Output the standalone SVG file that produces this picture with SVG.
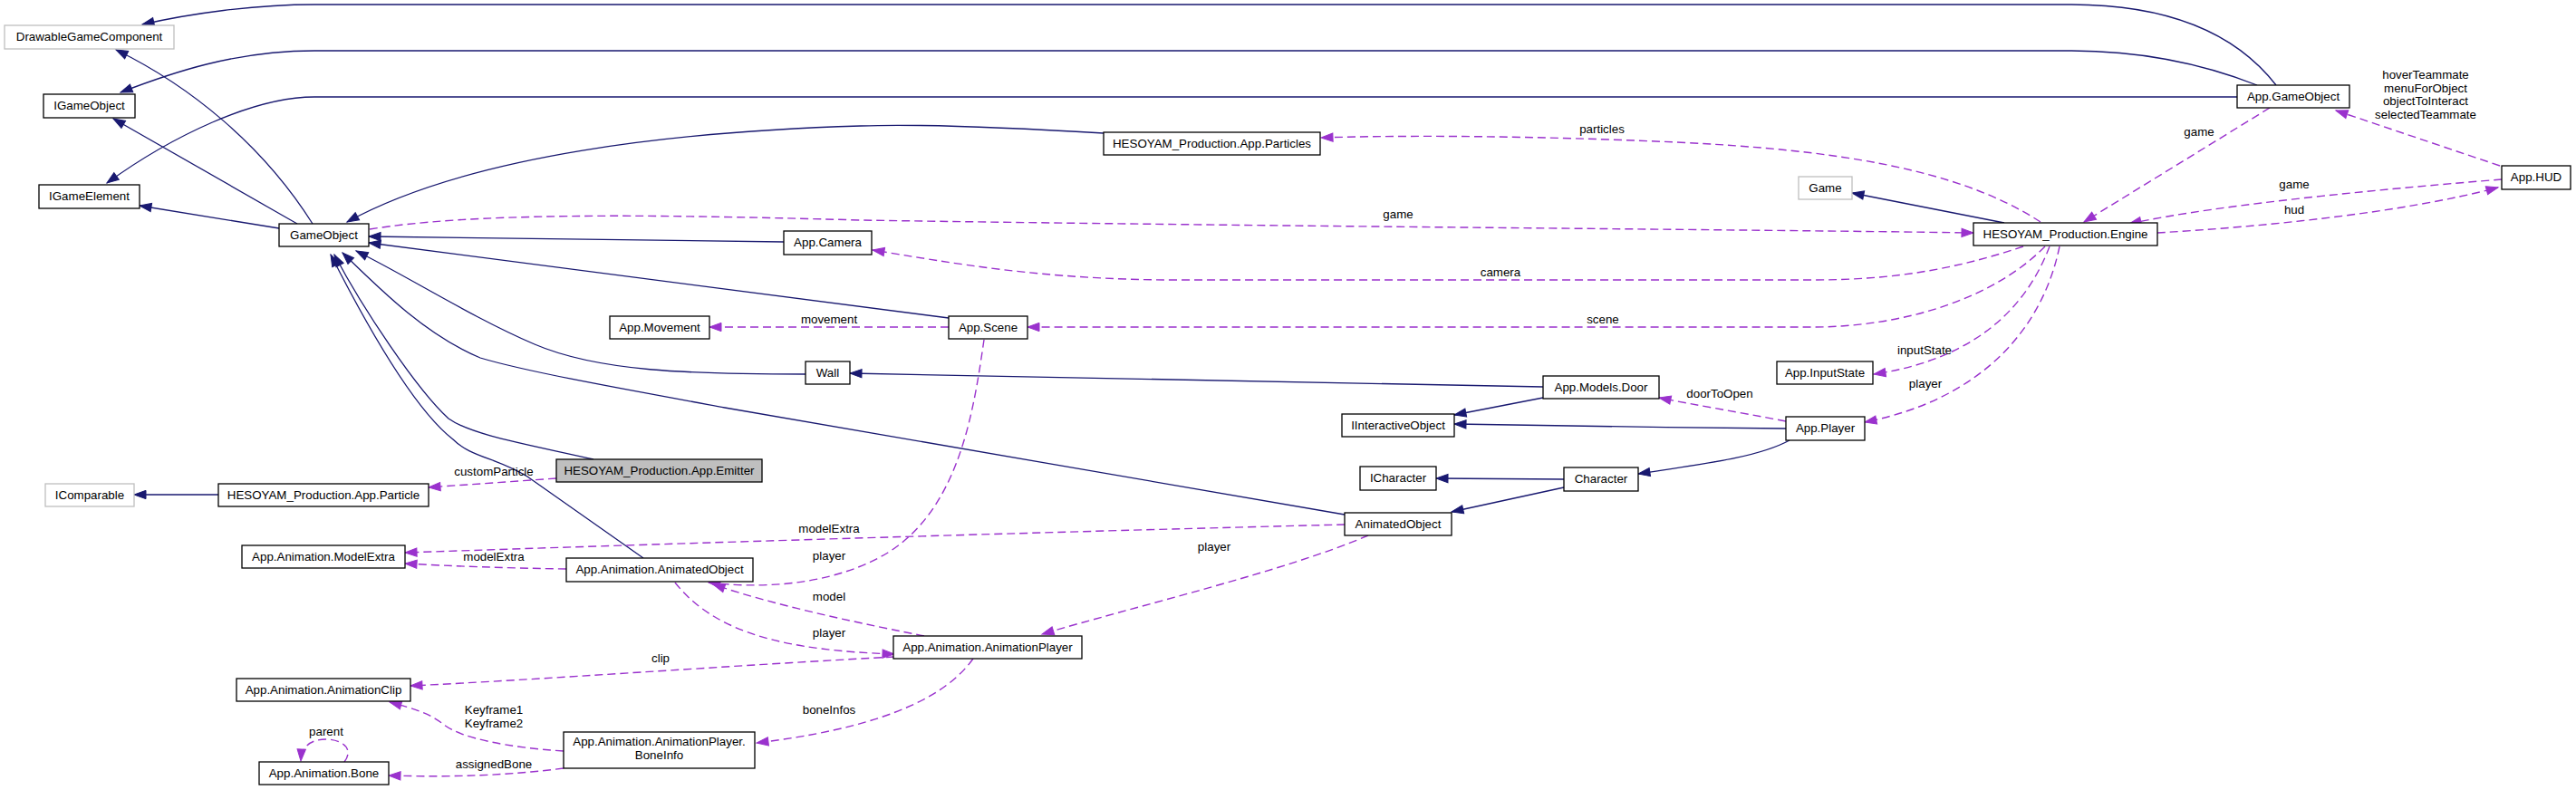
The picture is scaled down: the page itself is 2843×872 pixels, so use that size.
<svg xmlns="http://www.w3.org/2000/svg" width="2843" height="872" viewBox="0 0 2843 872">
<style>
.n rect{fill:#fff;stroke:#000;stroke-width:1.3}
.n.g rect{stroke:#bfbfbf}
.n.h rect{fill:#bfbfbf}
text{font-family:"Liberation Sans",Arial,Helvetica,sans-serif;font-size:13.33px;fill:#000;text-anchor:middle}
.s{fill:none;stroke:#191970;stroke-width:1.3;marker-end:url(#ab)}
.d{fill:none;stroke:#9a32cd;stroke-width:1.4;stroke-dasharray:9,5;marker-end:url(#ap)}
</style>
<defs>
<marker id="ab" markerUnits="userSpaceOnUse" markerWidth="14" markerHeight="10" refX="13" refY="4.65" orient="auto" overflow="visible"><path d="M0,0 L13,4.65 L0,9.3 z" fill="#191970" stroke="#191970" stroke-width="1"/></marker>
<marker id="ap" markerUnits="userSpaceOnUse" markerWidth="14" markerHeight="10" refX="13" refY="4.65" orient="auto" overflow="visible"><path d="M0,0 L13,4.65 L0,9.3 z" fill="#9a32cd" stroke="#9a32cd" stroke-width="1"/></marker>
</defs>
<rect width="2843" height="872" fill="#fff"/>
<g id="connectors">
<path class="s" d="M2512,94 C2470,40 2400,5 2285,5 L347,5 C280,5 210,15 157,27"/>
<path class="s" d="M2491,94 C2430,70 2360,56 2285,56 L347,56 C260,56 190,80 133,102"/>
<path class="s" d="M2469,107 L347,107 C280,107 190,150 118,202"/>
<path class="s" d="M345,247 C290,160 210,95 128,55"/>
<path class="s" d="M328,247 L125,131"/>
<path class="s" d="M308,252 L154,227"/>
<path class="s" d="M1218,147 C1100,140 1000,137 950,139 C750,145 520,170 383,245"/>
<path class="s" d="M865,267 L407,261"/>
<path class="s" d="M1047,351 L407,268"/>
<path class="s" d="M889,413 C760,413 660,410 590,380 C520,350 450,305 393,277"/>
<path class="s" d="M1484,568 L800,450 C680,428 580,410 530,395 C470,370 420,320 378,279"/>
<path class="s" d="M655,507 C580,490 520,480 495,462 C460,430 400,340 369,281"/>
<path class="s" d="M710,616 L582,526 C548,505 520,505 500,485 C455,450 400,350 365,281"/>
<path class="s" d="M1703,427 L938,412"/>
<path class="s" d="M1703,439 L1605,458"/>
<path class="s" d="M1971,473 C1850,472 1700,470 1605,468"/>
<path class="s" d="M1975,486 C1940,505 1880,512 1808,523"/>
<path class="s" d="M1726,529 L1585,528"/>
<path class="s" d="M1726,538 L1602,565"/>
<path class="s" d="M2212,246 L2044,213"/>
<path class="s" d="M241,546 L148,546"/>
<path class="d" d="M614,528 L473,538"/>
<path class="d" d="M625,628 C560,627 500,625 447,622"/>
<path class="d" d="M1484,579 C1200,586 800,598 447,610"/>
<path class="d" d="M1047,361 L783,361"/>
<path class="d" d="M1086,375 C1075,450 1060,560 980,610 C930,640 860,652 782,643"/>
<path class="d" d="M1020,702 C960,690 860,670 787,645"/>
<path class="d" d="M745,643 C790,700 870,718 987,722"/>
<path class="d" d="M1510,591 C1420,630 1250,670 1150,700"/>
<path class="d" d="M987,725 C800,735 600,750 453,757"/>
<path class="d" d="M622,829 C560,825 510,815 490,800 C475,788 460,783 430,775"/>
<path class="d" d="M1074,727 C1040,775 960,805 835,820"/>
<path class="d" d="M622,848 C560,856 500,858 429,856"/>
<path class="d" d="M380,841 C392,825 375,816 360,816 C345,816 333,822 332,840"/>
<path class="d" d="M408,253 C520,235 700,236 950,243 C1400,250 1900,253 2178,257"/>
<path class="d" d="M2233,272 C2150,300 2080,309 2000,309 L1300,309 C1150,309 1050,290 963,276"/>
<path class="d" d="M2257,272 C2200,330 2100,361 2000,361 L1134,361"/>
<path class="d" d="M2252,245 C2160,185 2020,165 1850,157 C1700,150 1550,149 1458,152"/>
<path class="d" d="M2505,119 L2300,245"/>
<path class="d" d="M2759,183 L2578,122"/>
<path class="d" d="M2761,198 C2650,207 2450,225 2350,247"/>
<path class="d" d="M2381,257 C2500,250 2650,235 2757,207"/>
<path class="d" d="M2262,272 C2240,330 2190,395 2068,413"/>
<path class="d" d="M2273,272 C2255,360 2190,440 2058,466"/>
<path class="d" d="M1971,465 C1920,455 1870,447 1831,439"/>
<text x="545" y="525">customParticle</text>
<text x="545" y="619">modelExtra</text>
<text x="915" y="588">modelExtra</text>
<text x="915" y="357">movement</text>
<text x="915" y="618">player</text>
<text x="915" y="663">model</text>
<text x="915" y="703">player</text>
<text x="1340" y="608">player</text>
<text x="729" y="731">clip</text>
<text x="545" y="788">Keyframe1</text>
<text x="545" y="803">Keyframe2</text>
<text x="915" y="788">boneInfos</text>
<text x="545" y="848">assignedBone</text>
<text x="360" y="812">parent</text>
<text x="1543" y="241">game</text>
<text x="1656" y="305">camera</text>
<text x="1769" y="357">scene</text>
<text x="1768" y="147">particles</text>
<text x="2427" y="150">game</text>
<text x="2677" y="87">hoverTeammate</text>
<text x="2677" y="101.5">menuForObject</text>
<text x="2677" y="116">objectToInteract</text>
<text x="2677" y="131">selectedTeammate</text>
<text x="2532" y="208">game</text>
<text x="2532" y="236">hud</text>
<text x="2124" y="391">inputState</text>
<text x="2125" y="428">player</text>
<text x="1898" y="439">doorToOpen</text>
</g>
<g id="DrawableGameComponent" class="n g"><rect x="5" y="28" width="187" height="26"/><text x="98.5" y="45">DrawableGameComponent</text></g>
<g id="IGameObject" class="n"><rect x="48" y="104" width="101" height="26"/><text x="98.5" y="121">IGameObject</text></g>
<g id="IGameElement" class="n"><rect x="43" y="204" width="111" height="26"/><text x="98.5" y="221">IGameElement</text></g>
<g id="GameObject" class="n"><rect x="308" y="247" width="99" height="25"/><text x="357.5" y="263.5">GameObject</text></g>
<g id="AppCamera" class="n"><rect x="865" y="255" width="97" height="26"/><text x="913.5" y="272">App.Camera</text></g>
<g id="AppMovement" class="n"><rect x="673" y="349" width="110" height="25"/><text x="728" y="365.5">App.Movement</text></g>
<g id="Wall" class="n"><rect x="889" y="399" width="49" height="25"/><text x="913.5" y="415.5">Wall</text></g>
<g id="Particles" class="n"><rect x="1218" y="146" width="239" height="25"/><text x="1337.5" y="162.5">HESOYAM_Production.App.Particles</text></g>
<g id="AppScene" class="n"><rect x="1047" y="349" width="87" height="25"/><text x="1090.5" y="365.5">App.Scene</text></g>
<g id="AppModelsDoor" class="n"><rect x="1703" y="415" width="128" height="25"/><text x="1767" y="431.5">App.Models.Door</text></g>
<g id="IInteractiveObject" class="n"><rect x="1481" y="457" width="124" height="25"/><text x="1543" y="473.5">IInteractiveObject</text></g>
<g id="ICharacter" class="n"><rect x="1501" y="515" width="84" height="26"/><text x="1543" y="532">ICharacter</text></g>
<g id="Character" class="n"><rect x="1726" y="516" width="82" height="26"/><text x="1767" y="533">Character</text></g>
<g id="AnimatedObject" class="n"><rect x="1484" y="566" width="118" height="25"/><text x="1543" y="582.5">AnimatedObject</text></g>
<g id="AnimationPlayer" class="n"><rect x="986" y="702" width="208" height="25"/><text x="1090" y="718.5">App.Animation.AnimationPlayer</text></g>
<g id="AppGameObject" class="n"><rect x="2469" y="94" width="124" height="25"/><text x="2531" y="110.5">App.GameObject</text></g>
<g id="Game" class="n g"><rect x="1985" y="195" width="59" height="25"/><text x="2014.5" y="211.5">Game</text></g>
<g id="Engine" class="n"><rect x="2178" y="246" width="203" height="25"/><text x="2279.5" y="262.5">HESOYAM_Production.Engine</text></g>
<g id="AppHUD" class="n"><rect x="2761" y="183" width="76" height="26"/><text x="2799" y="200">App.HUD</text></g>
<g id="AppInputState" class="n"><rect x="1961" y="399" width="106" height="25"/><text x="2014" y="415.5">App.InputState</text></g>
<g id="AppPlayer" class="n"><rect x="1971" y="460" width="87" height="26"/><text x="2014.5" y="477">App.Player</text></g>
<g id="Emitter" class="n h"><rect x="614" y="507" width="227" height="25"/><text x="727.5" y="523.5">HESOYAM_Production.App.Emitter</text></g>
<g id="IComparable" class="n g"><rect x="50" y="534" width="98" height="25"/><text x="99" y="550.5">IComparable</text></g>
<g id="Particle" class="n"><rect x="241" y="534" width="232" height="25"/><text x="357" y="550.5">HESOYAM_Production.App.Particle</text></g>
<g id="ModelExtra" class="n"><rect x="267" y="602" width="180" height="25"/><text x="357" y="618.5">App.Animation.ModelExtra</text></g>
<g id="AnimAnimatedObject" class="n"><rect x="625" y="616" width="206" height="26"/><text x="728" y="633">App.Animation.AnimatedObject</text></g>
<g id="AnimationClip" class="n"><rect x="261" y="749" width="192" height="25"/><text x="357" y="765.5">App.Animation.AnimationClip</text></g>
<g id="Bone" class="n"><rect x="286" y="841" width="143" height="25"/><text x="357.5" y="857.5">App.Animation.Bone</text></g>
<g id="BoneInfo" class="n"><rect x="622" y="808" width="211" height="40"/><text x="727.5" y="823">App.Animation.AnimationPlayer.</text><text x="727.5" y="838">BoneInfo</text></g>
</svg>
